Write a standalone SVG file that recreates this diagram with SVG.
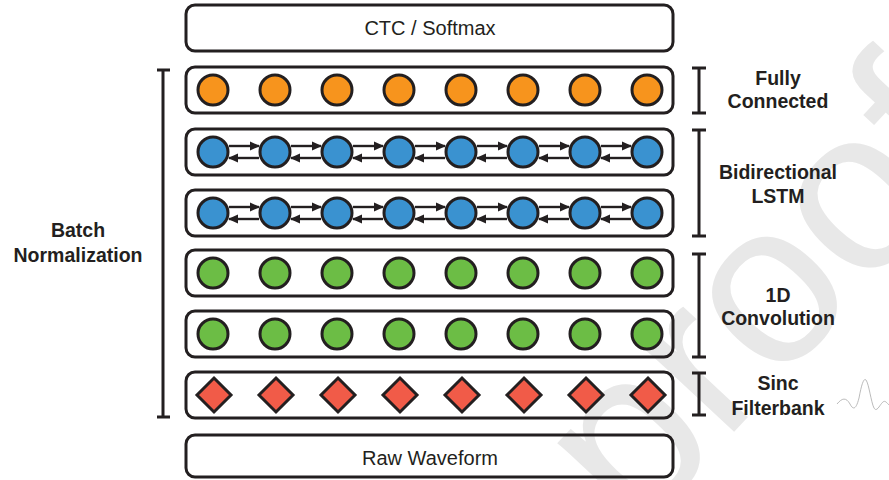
<svg xmlns="http://www.w3.org/2000/svg" width="889" height="480" viewBox="0 0 889 480">
<defs>
<style>
.box{fill:none;stroke:#231f20;stroke-width:3}
.c{stroke:#231f20;stroke-width:3}
.or{fill:#f7941d}.bl{fill:#3a92d0}.gr{fill:#6cbd45}.rd{fill:#f15b48}
.lbl{font-family:"Liberation Sans",Arial,sans-serif;font-weight:bold;font-size:19.5px;fill:#231f20;text-anchor:middle}
.big{font-family:"Liberation Sans",Arial,sans-serif;font-size:20px;fill:#231f20;text-anchor:middle}
.br{stroke:#231f20;stroke-width:3;fill:none}
.ar{stroke:#231f20;stroke-width:2.4;fill:none;marker-end:url(#ah)}
</style>
<marker id="ah" markerWidth="10" markerHeight="10" refX="9" refY="5" orient="auto" markerUnits="userSpaceOnUse">
<path d="M0,0.5 L10,5 L0,9.5 Z" fill="#231f20"/>
</marker>
<circle id="dot" r="15"/>
<path id="dia" d="M0,-17 L17,0 L0,17 L-17,0 Z"/>
<g id="fw"><path class="ar" d="M229,0H259"/></g>
<g id="bw"><path class="ar" d="M259,0H229"/></g>
</defs>
<rect width="889" height="480" fill="#fff"/>
<g id="watermark">
<text transform="translate(636,537) rotate(-47)" font-family="Liberation Sans,Arial,sans-serif" font-size="230" fill="#e8e8e8">proof</text>
</g>
<g id="ctc"><rect class="box" x="186" y="5" width="487" height="46" rx="9"/><text class="big" x="430" y="35">CTC / Softmax</text></g>
<g id="fc"><rect class="box" x="186" y="67" width="487" height="46" rx="9"/>
<g class="c or"><use href="#dot" x="213" y="90"/><use href="#dot" x="275" y="90"/><use href="#dot" x="337" y="90"/><use href="#dot" x="399" y="90"/><use href="#dot" x="461" y="90"/><use href="#dot" x="523" y="90"/><use href="#dot" x="585" y="90"/><use href="#dot" x="647" y="90"/></g></g>
<g id="lstm1"><rect class="box" x="186" y="129" width="487" height="46" rx="9"/>
<g class="c bl"><use href="#dot" x="213" y="152"/><use href="#dot" x="275" y="152"/><use href="#dot" x="337" y="152"/><use href="#dot" x="399" y="152"/><use href="#dot" x="461" y="152"/><use href="#dot" x="523" y="152"/><use href="#dot" x="585" y="152"/><use href="#dot" x="647" y="152"/></g></g>
<g id="lstm2"><rect class="box" x="186" y="190" width="487" height="46" rx="9"/>
<g class="c bl"><use href="#dot" x="213" y="213"/><use href="#dot" x="275" y="213"/><use href="#dot" x="337" y="213"/><use href="#dot" x="399" y="213"/><use href="#dot" x="461" y="213"/><use href="#dot" x="523" y="213"/><use href="#dot" x="585" y="213"/><use href="#dot" x="647" y="213"/></g></g>
<g id="conv1"><rect class="box" x="186" y="250" width="487" height="46" rx="9"/>
<g class="c gr"><use href="#dot" x="213" y="273"/><use href="#dot" x="275" y="273"/><use href="#dot" x="337" y="273"/><use href="#dot" x="399" y="273"/><use href="#dot" x="461" y="273"/><use href="#dot" x="523" y="273"/><use href="#dot" x="585" y="273"/><use href="#dot" x="647" y="273"/></g></g>
<g id="conv2"><rect class="box" x="186" y="311" width="487" height="46" rx="9"/>
<g class="c gr"><use href="#dot" x="213" y="334"/><use href="#dot" x="275" y="334"/><use href="#dot" x="337" y="334"/><use href="#dot" x="399" y="334"/><use href="#dot" x="461" y="334"/><use href="#dot" x="523" y="334"/><use href="#dot" x="585" y="334"/><use href="#dot" x="647" y="334"/></g></g>
<g id="sinc"><rect class="box" x="186" y="372" width="487" height="46" rx="9"/>
<g class="c rd"><use href="#dia" x="214" y="395"/><use href="#dia" x="276" y="395"/><use href="#dia" x="338" y="395"/><use href="#dia" x="400" y="395"/><use href="#dia" x="462" y="395"/><use href="#dia" x="524" y="395"/><use href="#dia" x="586" y="395"/><use href="#dia" x="648" y="395"/></g></g>
<g id="raw"><rect class="box" x="186" y="435" width="487" height="42" rx="9"/><text class="big" x="430" y="465">Raw Waveform</text></g>
<g id="connectors">
<use href="#fw" x="0" y="146"/><use href="#fw" x="62" y="146"/><use href="#fw" x="124" y="146"/><use href="#fw" x="186" y="146"/><use href="#fw" x="248" y="146"/><use href="#fw" x="310" y="146"/><use href="#fw" x="372" y="146"/>
<use href="#bw" x="0" y="158"/><use href="#bw" x="62" y="158"/><use href="#bw" x="124" y="158"/><use href="#bw" x="186" y="158"/><use href="#bw" x="248" y="158"/><use href="#bw" x="310" y="158"/><use href="#bw" x="372" y="158"/>
<use href="#fw" x="0" y="207"/><use href="#fw" x="62" y="207"/><use href="#fw" x="124" y="207"/><use href="#fw" x="186" y="207"/><use href="#fw" x="248" y="207"/><use href="#fw" x="310" y="207"/><use href="#fw" x="372" y="207"/>
<use href="#bw" x="0" y="219"/><use href="#bw" x="62" y="219"/><use href="#bw" x="124" y="219"/><use href="#bw" x="186" y="219"/><use href="#bw" x="248" y="219"/><use href="#bw" x="310" y="219"/><use href="#bw" x="372" y="219"/>
</g>
<g id="brackets" class="br">
<path d="M163,70V417M157,70H170M157,417H170"/>
<path d="M699,68V113M692,68H706M692,113H706"/>
<path d="M699,130V236M692,130H706M692,236H706"/>
<path d="M699,254V357M692,254H706M692,357H706"/>
<path d="M699,373V415M692,373H706M692,415H706"/>
</g>
<g id="labels">
<text class="lbl" x="78" y="237">Batch</text>
<text class="lbl" x="78" y="262">Normalization</text>
<text class="lbl" x="778" y="85">Fully</text>
<text class="lbl" x="778" y="108">Connected</text>
<text class="lbl" x="778" y="179">Bidirectional</text>
<text class="lbl" x="778" y="203">LSTM</text>
<text class="lbl" x="778" y="302">1D</text>
<text class="lbl" x="778" y="325">Convolution</text>
<text class="lbl" x="778" y="390">Sinc</text>
<text class="lbl" x="778" y="415">Filterbank</text>
</g>
<g id="wave"><path d="M837,404 C842,398 846,397 850,404 C853,410 856,410 859,398 C862,382 864,378 866,380 C869,384 871,402 874,408 C877,413 880,404 883,402 C885,400 887,403 889,405" fill="none" stroke="#aaa" stroke-width="0.8"/></g>
</svg>
